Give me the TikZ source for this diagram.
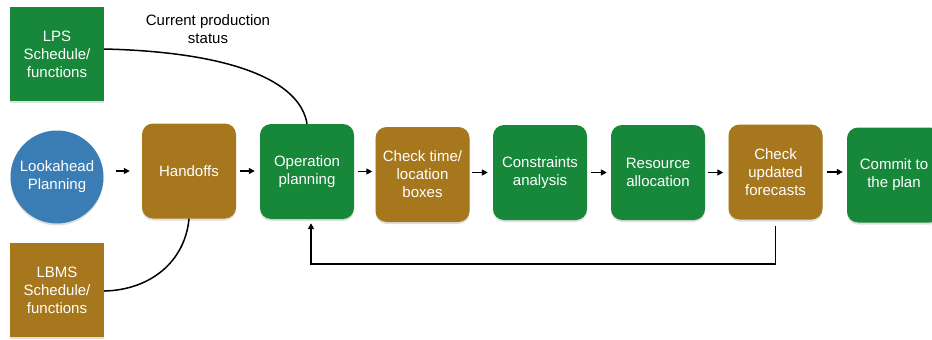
\documentclass[tikz,border=0pt]{standalone}
\usepackage{fontspec}
\setmainfont{Liberation Sans}
\usetikzlibrary{arrows.meta,shadows}
\definecolor{boxgreen}{HTML}{17873A}
\definecolor{boxbrown}{HTML}{A7771E}
\definecolor{boxblue}{HTML}{3A7DB5}
\begin{document}
\begin{tikzpicture}[x=1pt,y=-1pt,
  lbl/.style={font=\fontsize{15}{18}\selectfont, align=center},
  box/.style={lbl, text=white, minimum width=94pt, minimum height=95pt, inner sep=0pt,
    rounded corners=11pt, drop shadow={opacity=0.25, shadow xshift=0pt, shadow yshift=-2pt}},
  sqbox/.style={box, sharp corners},
  greenbox/.style={box, fill=boxgreen},
  brownbox/.style={box, fill=boxbrown},
  arr/.style={-{Triangle[length=6pt,width=6pt]}, line width=1.5pt, shorten <=4pt, shorten >=4pt},
  conn/.style={line width=1.5pt}]
\useasboundingbox (0,0) rectangle (932,340);
\clip (0,0) rectangle (932,340);

\node[sqbox, fill=boxgreen, minimum height=94pt] (lps) at (57,54) {LPS\\Schedule/\\functions};
\node[sqbox, fill=boxbrown, minimum height=94pt] (lbms) at (57,290) {LBMS\\Schedule/\\functions};
\node[lbl, text=white, circle, fill=boxblue, minimum size=93pt, inner sep=0pt,
  drop shadow={opacity=0.25, shadow xshift=0pt, shadow yshift=-2pt}] (look) at (57,177) {Lookahead\\Planning};

\node[brownbox] (hand) at (189,171) {Handoffs};
\node[greenbox] (op) at (307,171.5) {Operation\\planning};
\node[brownbox] (ctime) at (422.5,174.5) {Check time/\\location\\boxes};
\node[greenbox] (cons) at (540,172.5) {Constraints\\analysis};
\node[greenbox] (res) at (658,172.5) {Resource\\allocation};
\node[brownbox] (cupd) at (775.5,172) {Check\\updated\\forecasts};
\node[greenbox] (commit) at (894,175) {Commit to\\the plan};

\node[lbl, text=black] (status) at (208,29) {Current production\\status};

\draw[arr, shorten <=12pt, shorten >=12pt] (look.east |- hand.west) -- (hand.west);
\draw[arr, shorten >=5pt] (hand.east) -- (hand.east -| op.west);
\draw[arr, shorten >=3pt] (op.east) -- (op.east -| ctime.west);
\draw[arr, shorten <=2pt, shorten >=5pt] (cons.west -| ctime.east) -- (cons.west);
\draw[arr] (cons.east) -- (cons.east -| res.west);
\draw[arr, shorten <=3pt, shorten >=5pt] (res.east) -- (res.east -| cupd.west);
\draw[arr] (cupd.east) -- (cupd.east -| commit.west);

\draw[conn] (lps.east |- 0,49) .. controls (230,52) and (300,80) .. (op.north);
\draw[conn] (lbms.east |- 0,291) .. controls (150,290) and (185,262) .. (hand.south);

\coordinate (fb) at (0,264);
\coordinate (opin) at ([xshift=4pt]op.south);
\draw[conn, -{Triangle[length=6pt,width=6pt]}, shorten <=6pt, shorten >=4pt]
  (cupd.south) -- (cupd.south |- fb) -- (opin |- fb) -- (opin);
\end{tikzpicture}
\end{document}
